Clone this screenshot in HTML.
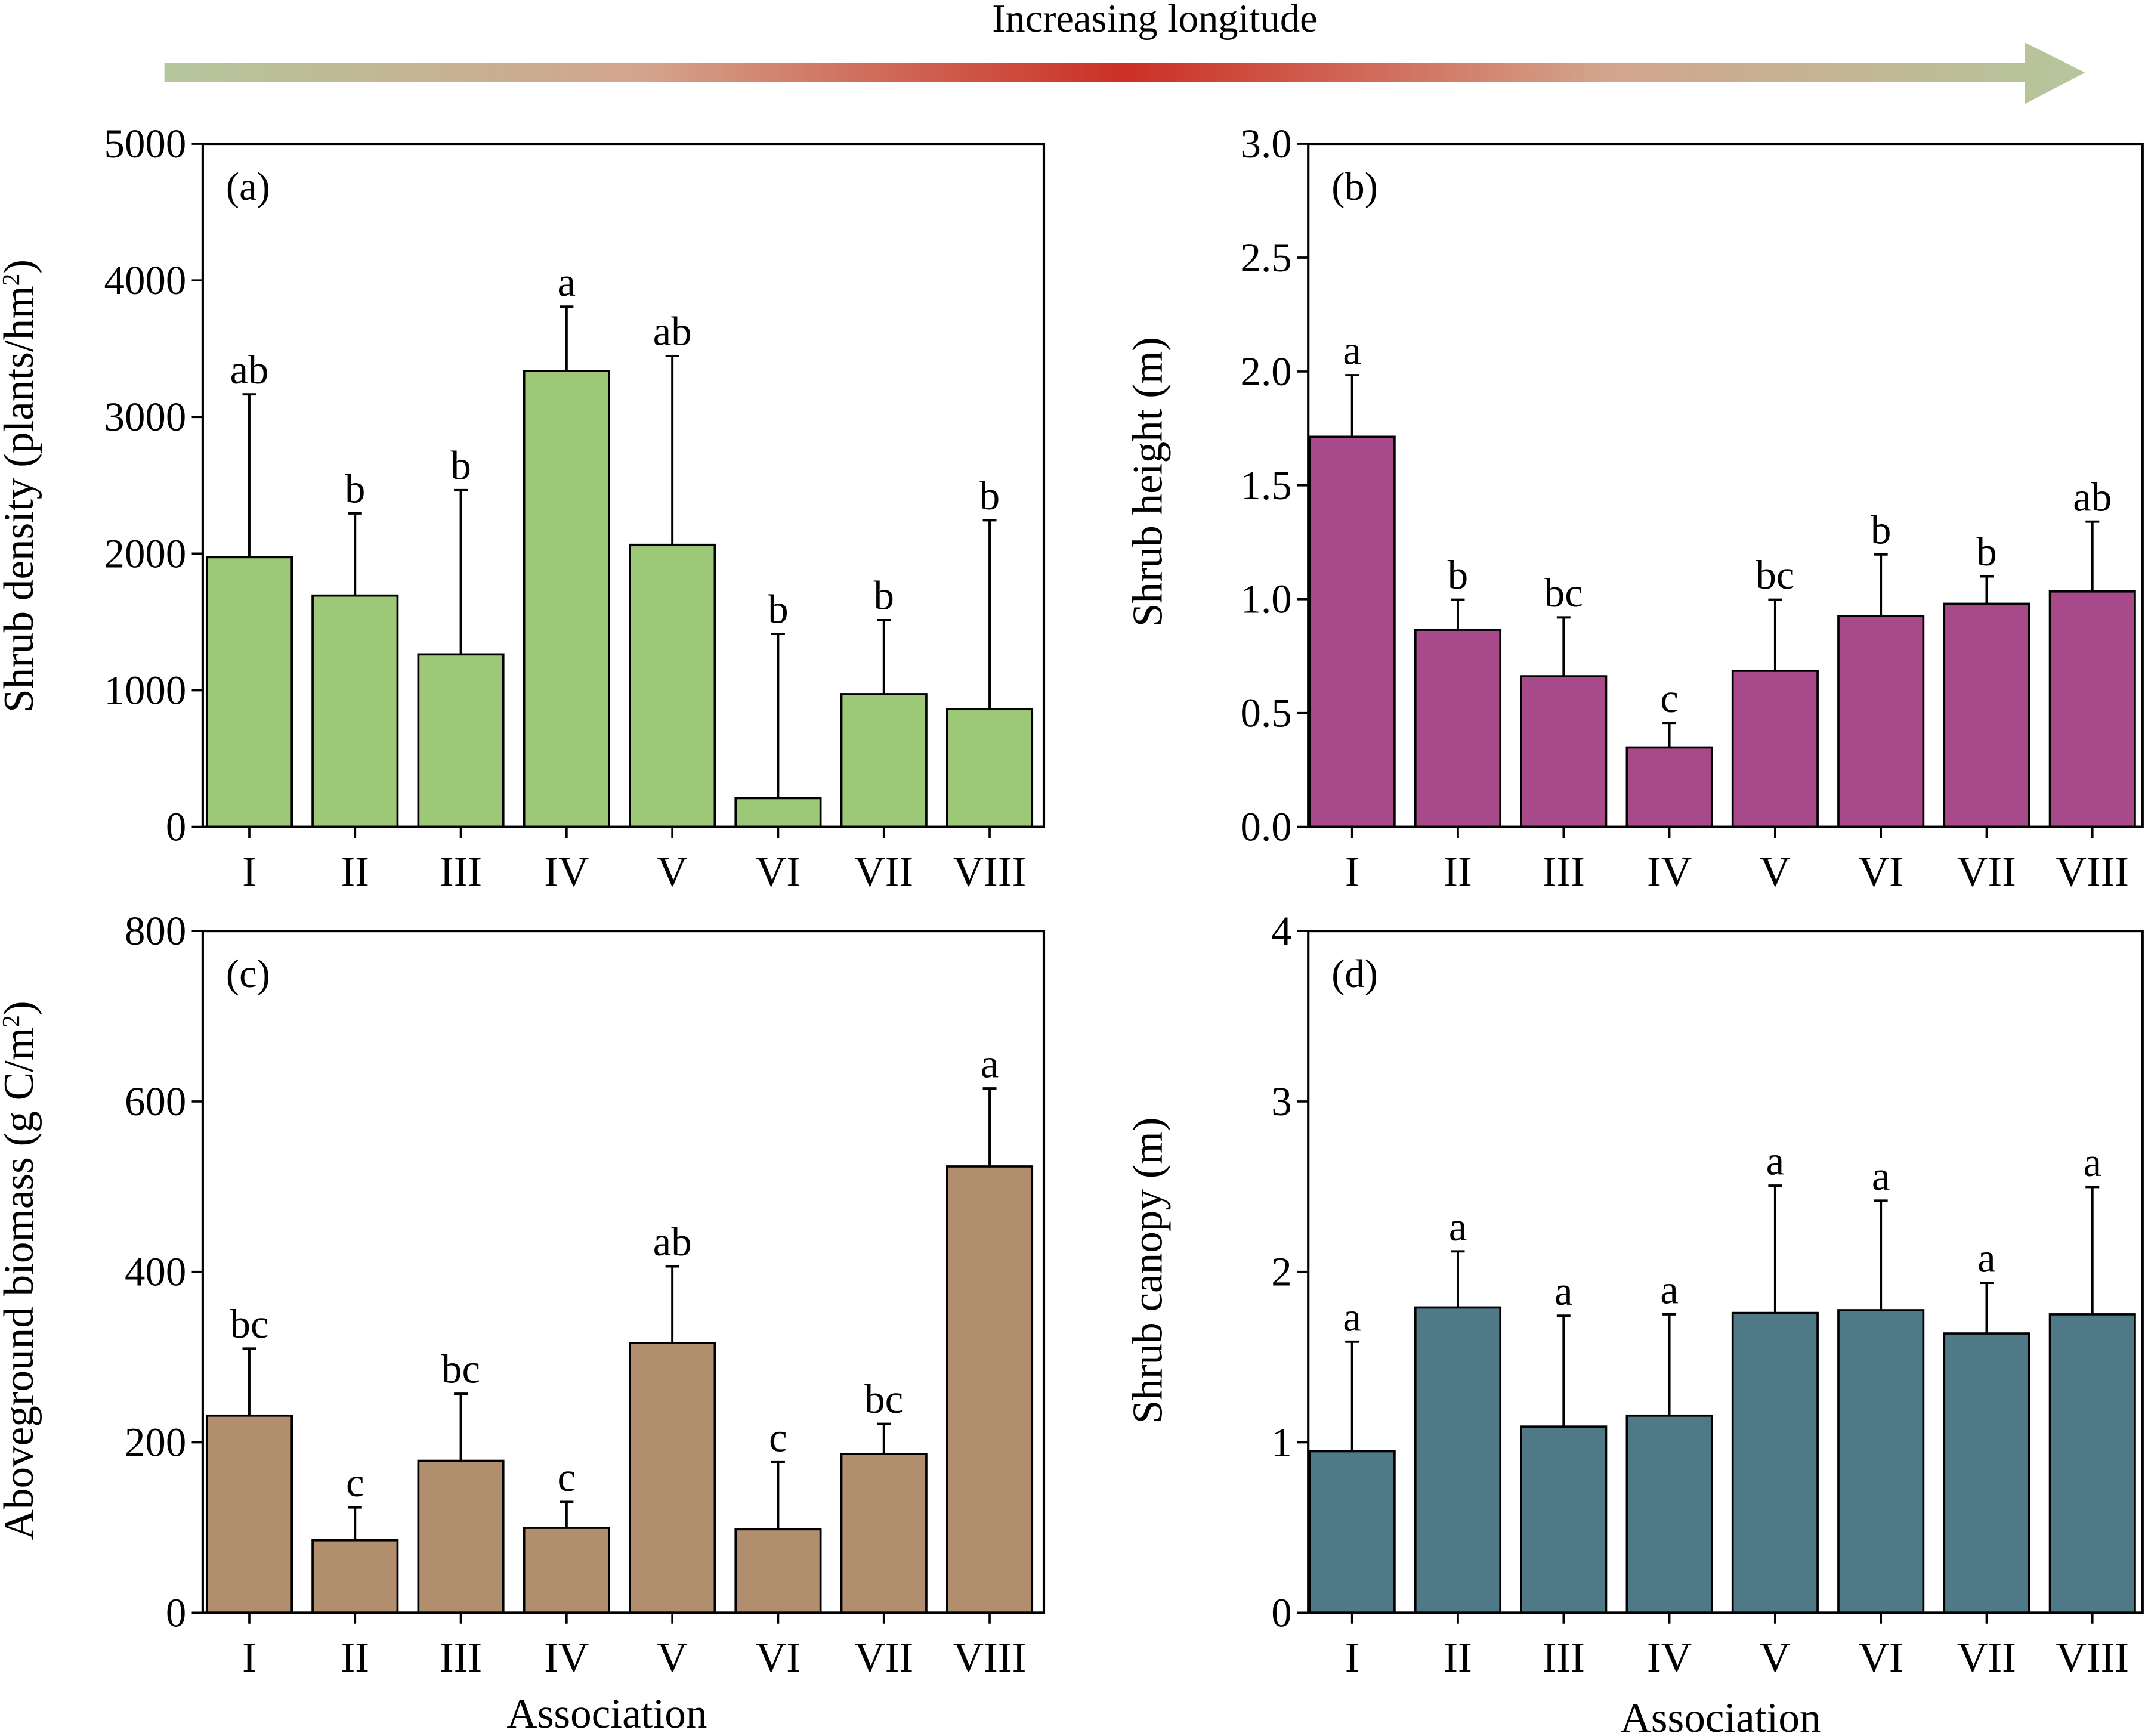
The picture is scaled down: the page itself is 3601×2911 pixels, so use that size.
<!DOCTYPE html>
<html><head><meta charset="utf-8"><style>
html,body{margin:0;padding:0;background:#fff;}
svg{display:block;}
text{font-family:"Liberation Serif",serif;fill:#000;}
</style></head><body>
<svg width="3601" height="2911" viewBox="0 0 1568 1268" preserveAspectRatio="none" xmlns="http://www.w3.org/2000/svg">
<defs>
<linearGradient id="g" x1="120" x2="1522" y1="0" y2="0" gradientUnits="userSpaceOnUse">
<stop offset="0" stop-color="#b4c79c"/>
<stop offset="0.25" stop-color="#d3a48c"/>
<stop offset="0.5" stop-color="#cc2f25"/>
<stop offset="0.75" stop-color="#d3a48c"/>
<stop offset="1" stop-color="#b4c79c"/>
</linearGradient>
</defs>
<text x="843" y="23" font-size="29" text-anchor="middle">Increasing longitude</text>
<polygon points="120,46 1478,46 1478,31 1522,53 1478,76 1478,60 120,60" fill="url(#g)"/>
<g id="plots" stroke-width="1.6"></g>
</svg>
<script>
(function(){
var NS="http://www.w3.org/2000/svg",root=document.getElementById("plots");
function el(t,a,txt){var e=document.createElementNS(NS,t);for(var k in a)e.setAttribute(k,a[k]);if(txt!==undefined)e.textContent=txt;root.appendChild(e);return e;}
var labs=["I","II","III","IV","V","VI","VII","VIII"];
function panel(o){
 var x0=o.x0,x1=o.x1,y0=o.y0,y1=o.y1;
 for(var i=0;i<8;i++){
  var cx=o.cx0+i*o.dx, bt=o.bars[i], et=o.errs[i];
  el("line",{x1:cx,x2:cx,y1:bt,y2:et,stroke:"#000","stroke-width":1.7});
  el("line",{x1:cx-5,x2:cx+5,y1:et,y2:et,stroke:"#000","stroke-width":1.7});
  el("rect",{x:cx-31,y:bt,width:62,height:y1-bt,fill:o.col,stroke:"#000","stroke-width":1.6});
  el("text",{x:cx,y:et-8,"font-size":30,"text-anchor":"middle"},o.let[i]);
  el("line",{x1:cx,x2:cx,y1:y1,y2:y1+8,stroke:"#000","stroke-width":1.6});
  el("text",{x:cx,y:y1+43,"font-size":31,"text-anchor":"middle"},labs[i]);
 }
 el("rect",{x:x0,y:y0,width:x1-x0,height:y1-y0,fill:"none",stroke:"#000","stroke-width":1.8});
 for(var j=0;j<o.ticks.length;j++){
  var ty=y1-(y1-y0)*j/(o.ticks.length-1);
  el("line",{x1:x0-8,x2:x0,y1:ty,y2:ty,stroke:"#000","stroke-width":1.6});
  el("text",{x:x0-12,y:ty+10,"font-size":30,"text-anchor":"end"},o.ticks[j]);
 }
 el("text",{x:x0+17,y:y0+41,"font-size":29},o.pl);
 var t=el("text",{x:0,y:0,"font-size":31,"text-anchor":"middle",transform:"translate("+o.tx+","+o.ty+") rotate(-90)"});
 t.innerHTML=o.title;
 if(o.xt)el("text",{x:o.xtx,y:o.xty,"font-size":31,"text-anchor":"middle"},"Association");
}
panel({x0:148,x1:762,y0:105,y1:604,cx0:182,dx:77.2,col:"#9dc877",
 bars:[407,435,478,271,398,583,507,518],errs:[288,375,358,224,260,463,453,380],
 let:["ab","b","b","a","ab","b","b","b"],ticks:["0","1000","2000","3000","4000","5000"],pl:"(a)",
 tx:24,ty:355,title:'Shrub density (plants/hm<tspan dy="-10" font-size="18">2</tspan><tspan dy="10">)</tspan>'});
panel({x0:955,x1:1564,y0:105,y1:604,cx0:987,dx:77.2,col:"#a84a8a",
 bars:[319,460,494,546,490,450,441,432],errs:[274,438,451,528,438,405,421,381],
 let:["a","b","bc","c","bc","b","b","ab"],ticks:["0.0","0.5","1.0","1.5","2.0","2.5","3.0"],pl:"(b)",
 tx:848,ty:352,title:'Shrub height (m)'});
panel({x0:148,x1:762,y0:680,y1:1178,cx0:182,dx:77.2,col:"#b08e6e",
 bars:[1034,1125,1067,1116,981,1117,1062,852],errs:[985,1101,1018,1097,925,1068,1040,795],
 let:["bc","c","bc","c","ab","c","bc","a"],ticks:["0","200","400","600","800"],pl:"(c)",
 tx:24,ty:928,title:'Aboveground biomass (g C/m<tspan dy="-10" font-size="18">2</tspan><tspan dy="10">)</tspan>',
 xt:1,xtx:443,xty:1262});
panel({x0:955,x1:1564,y0:680,y1:1178,cx0:987,dx:77.2,col:"#4f7987",
 bars:[1060,955,1042,1034,959,957,974,960],errs:[980,914,961,960,866,877,937,867],
 let:["a","a","a","a","a","a","a","a"],ticks:["0","1","2","3","4"],pl:"(d)",
 tx:848,ty:928,title:'Shrub canopy (m)',xt:1,xtx:1256,xty:1265});
})();
</script>
</body></html>
